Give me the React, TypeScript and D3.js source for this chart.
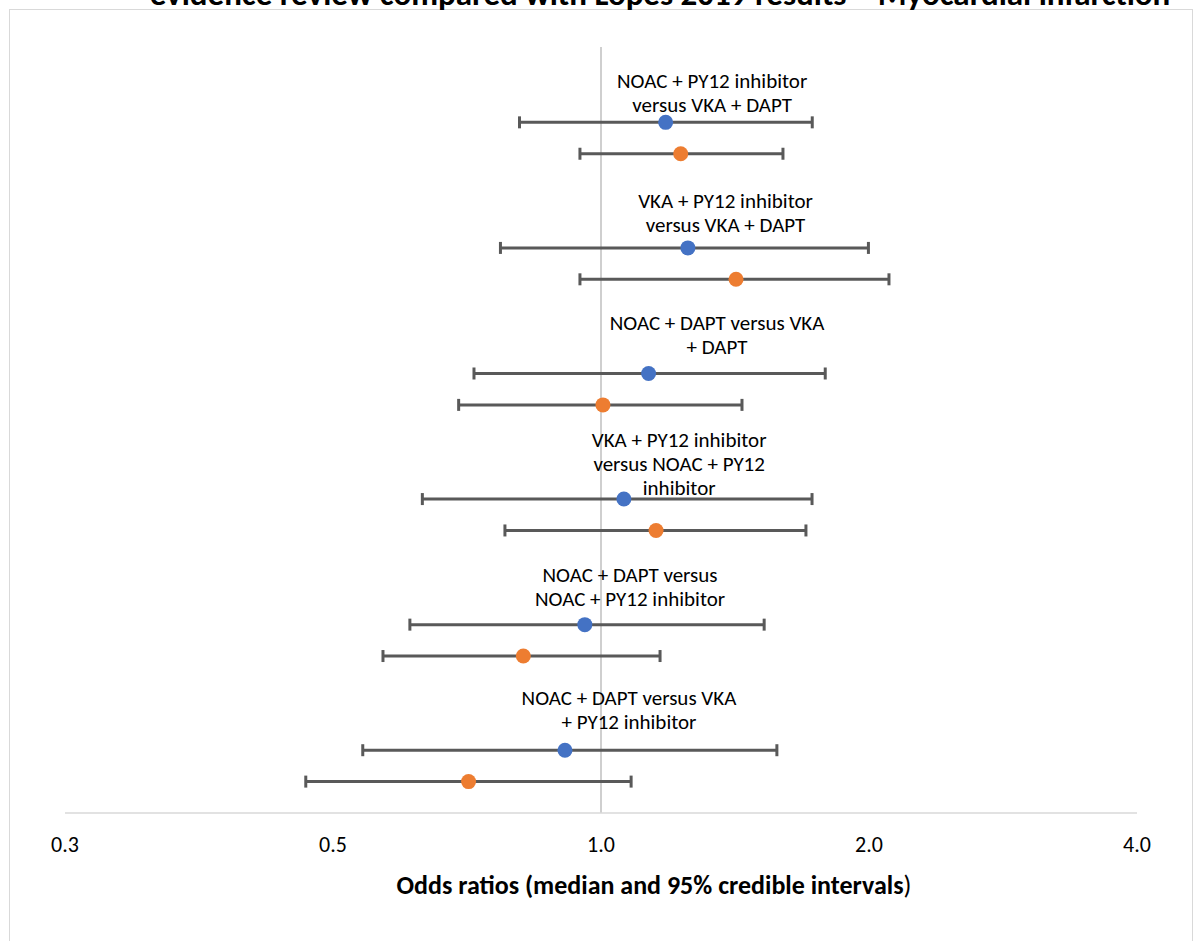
import React from 'react';
import * as d3 from 'd3';

// ---- data ----
const comparisonLabels: string[][] = [
  ['NOAC + PY12 inhibitor', 'versus VKA + DAPT'],
  ['VKA + PY12 inhibitor', 'versus VKA + DAPT'],
  ['NOAC + DAPT versus VKA', '+ DAPT'],
  ['VKA + PY12 inhibitor', 'versus NOAC + PY12', 'inhibitor'],
  ['NOAC + DAPT versus', 'NOAC + PY12 inhibitor'],
  ['NOAC + DAPT versus VKA', '+ PY12 inhibitor'],
];
// series 1 (blue) and series 2 (orange): median and 95% credible interval
const blueMedian = [1.182, 1.252, 1.131, 1.061, 0.959, 0.911];
const blueLower = [0.81, 0.771, 0.72, 0.63, 0.61, 0.54];
const blueUpper = [1.727, 1.997, 1.786, 1.726, 1.525, 1.576];
const orangeMedian = [1.229, 1.418, 1.005, 1.153, 0.818, 0.71];
const orangeLower = [0.947, 0.947, 0.692, 0.78, 0.569, 0.466];
const orangeUpper = [1.601, 2.106, 1.44, 1.699, 1.165, 1.081];
// row positions on the (hidden) vertical value axis
const blueRow = [5.5, 4.5, 3.5, 2.5, 1.5, 0.5];
const orangeRow = [5.25, 4.25, 3.25, 2.25, 1.25, 0.25];
// label anchor positions in data units (odds ratio, row)
const labelOR = [1.333, 1.38, 1.35, 1.224, 1.078, 1.075];
const labelRow = [5.72, 4.765, 3.79, 2.76, 1.78, 0.802];
const tickValues = [0.25, 0.5, 1, 2, 4];
const tickLabels = ['0.3', '0.5', '1.0', '2.0', '4.0'];
const titleText = 'evidence review compared with Lopes 2019 results \u2013 Myocardial infarction';
const xTitle = 'Odds ratios (median and 95% credible intervals';

const W = 1194;
const H = 941;
const FONT = 'Carlito, Calibri, Lato, sans-serif';

export default function App() {
  const x = d3.scaleLog().base(2).domain([0.25, 4]).range([65, 1137]);
  const y = d3.scaleLinear().domain([0, 6.1]).range([813, 47]);
  const blue = '#4472C4';
  const orange = '#ED7D31';
  const barColor = '#595959';

  const series = [
    { med: blueMedian, lo: blueLower, hi: blueUpper, row: blueRow, color: blue },
    { med: orangeMedian, lo: orangeLower, hi: orangeUpper, row: orangeRow, color: orange },
  ];
  const lineH = 24;

  return (
    <svg
      width={W}
      height={H}
      style={{ position: 'absolute', left: 0, top: 0, background: '#fff' }}
      fontFamily={FONT}
    >
      <rect x={9.5} y={9.5} width={1183} height={H} fill="#fff" stroke="#d9d9d9" strokeWidth={1} />
      <text x={660} y={5} textAnchor="middle" fontWeight="bold" fontSize={33} fill="#000">
        {titleText}
      </text>
      {/* reference line at OR = 1 */}
      <line x1={x(1)} x2={x(1)} y1={y(6.1)} y2={y(0)} stroke="#bfbfbf" strokeWidth={1.5} />
      {/* x axis */}
      <line x1={x(0.25)} x2={x(4)} y1={y(0)} y2={y(0)} stroke="#d9d9d9" strokeWidth={1.5} />
      {tickValues.map((t, i) => (
        <text key={t} x={x(t)} y={y(0) + 34} textAnchor="middle" dominantBaseline="middle" fontSize={22} fill="#000">
          {tickLabels[i]}
        </text>
      ))}
      <text x={654} y={888} textAnchor="middle" dominantBaseline="middle" fontSize={26} fill="#000">
        <tspan fontWeight="bold">{xTitle}</tspan>
        <tspan>)</tspan>
      </text>
      {/* error bars and points */}
      {series.map((s, si) =>
        s.med.map((m, i) => {
          const cy = y(s.row[i]);
          return (
            <g key={`${si}-${i}`}>
              <line x1={x(s.lo[i])} x2={x(s.hi[i])} y1={cy} y2={cy} stroke={barColor} strokeWidth={3} />
              <line x1={x(s.lo[i])} x2={x(s.lo[i])} y1={cy - 6} y2={cy + 6} stroke={barColor} strokeWidth={3} />
              <line x1={x(s.hi[i])} x2={x(s.hi[i])} y1={cy - 6} y2={cy + 6} stroke={barColor} strokeWidth={3} />
              <circle cx={x(m)} cy={cy} r={7.5} fill={s.color} />
            </g>
          );
        })
      )}
      {/* comparison labels */}
      {comparisonLabels.map((lines, i) => {
        const cx = x(labelOR[i]);
        const cy = y(labelRow[i]);
        const start = cy - ((lines.length - 1) * lineH) / 2;
        return (
          <text key={i} textAnchor="middle" fontSize={21} fill="#000">
            {lines.map((ln, j) => (
              <tspan key={j} x={cx} y={start + j * lineH} dominantBaseline="middle">
                {ln}
              </tspan>
            ))}
          </text>
        );
      })}
    </svg>
  );
}
